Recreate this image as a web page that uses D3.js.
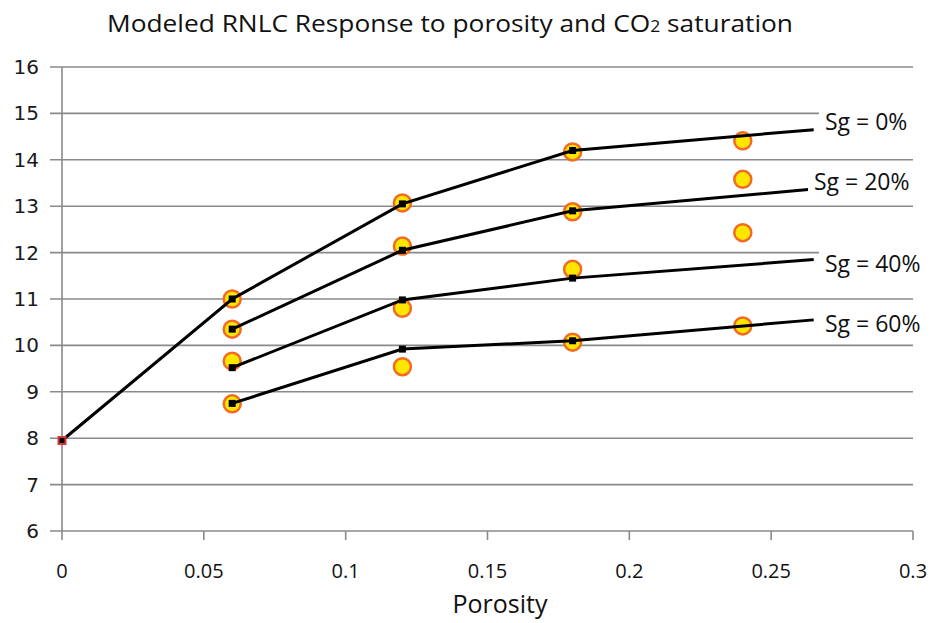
<!DOCTYPE html>
<html>
<head>
<meta charset="utf-8">
<script src="https://cdn.jsdelivr.net/npm/d3@7"></script>
<style>
  body { margin: 0; background: #fff; }
  text { font-family: "Open Sans", "Noto Sans", sans-serif; }
</style>
</head>
<body>
<svg id="chart" width="935" height="623"></svg>
<script>
// porosity values where the model lines bend, and the last (extrapolated) end point
var lineX0 = [0, 0.06, 0.12, 0.18, 0.265];
var lineX = [0.06, 0.12, 0.18, 0.265];
var model0 = [7.95, 11.0, 13.05, 14.2, 14.65];
var model20 = [10.35, 12.05, 12.9, 13.37];
var model40 = [9.52, 10.98, 11.45, 11.85];
var model60 = [8.75, 9.92, 10.1, 10.55];

// measured points (yellow circles)
var pointX = [0.06, 0.12, 0.18, 0.24];
var meas0 = [11.0, 13.07, 14.17, 14.41];
var meas20 = [10.35, 12.14, 12.88, 13.58];
var meas40 = [9.66, 10.8, 11.64, 12.43];
var meas60 = [8.74, 9.54, 10.07, 10.42];

var labels = ['Sg = 0%', 'Sg = 20%', 'Sg = 40%', 'Sg = 60%'];
var yTicks = [6, 7, 8, 9, 10, 11, 12, 13, 14, 15, 16];
var xTicks = [0, 0.05, 0.1, 0.15, 0.2, 0.25, 0.3];

var svg = d3.select('#chart');
var x = d3.scaleLinear().domain([0, 0.3]).range([62, 913]);
var y = d3.scaleLinear().domain([6, 16]).range([531, 67]);

// gridlines
svg.append('g')
    .selectAll('line')
    .data(yTicks)
    .join('line')
    .attr('x1', 50).attr('x2', x(0.3))
    .attr('y1', d => y(d)).attr('y2', d => y(d))
    .attr('stroke', '#8a8a8a').attr('stroke-width', 1.6);

svg.append('line')
    .attr('x1', x(0)).attr('x2', x(0))
    .attr('y1', y(16)).attr('y2', y(6) + 9)
    .attr('stroke', '#8a8a8a').attr('stroke-width', 1.6);

svg.append('g')
    .selectAll('line')
    .data(xTicks.slice(1))
    .join('line')
    .attr('x1', d => x(d)).attr('x2', d => x(d))
    .attr('y1', y(6)).attr('y2', y(6) + 9)
    .attr('stroke', '#8a8a8a').attr('stroke-width', 1.6);

// tick labels
svg.append('g')
    .selectAll('text')
    .data(yTicks)
    .join('text')
    .attr('x', 39).attr('y', d => y(d) + 7)
    .attr('text-anchor', 'end')
    .style('font-family', 'DejaVu Sans')
    .style('font-size', '20px')
    .attr('fill', '#1a1a1a')
    .text(d => d);

svg.append('g')
    .selectAll('text')
    .data(xTicks)
    .join('text')
    .attr('x', d => x(d)).attr('y', 578)
    .attr('text-anchor', 'middle')
    .style('font-size', '20px')
    .attr('fill', '#111')
    .text(d => d);

svg.append('text')
    .attr('x', 450).attr('y', 32)
    .attr('text-anchor', 'middle')
    .attr('textLength', 686)
    .attr('lengthAdjust', 'spacingAndGlyphs')
    .style('font-size', '24px')
    .attr('fill', '#111')
    .html('Modeled RNLC Response to porosity and CO<tspan font-size="16px">2</tspan> saturation');

svg.append('text')
    .attr('x', 500).attr('y', 613)
    .attr('text-anchor', 'middle')
    .style('font-size', '25px')
    .attr('fill', '#111')
    .text('Porosity');

// measured points
var measured = [meas0, meas20, meas40, meas60];
measured.forEach(function(vals) {
    svg.append('g')
        .selectAll('circle')
        .data(vals)
        .join('circle')
        .attr('cx', (d, i) => x(pointX[i]))
        .attr('cy', d => y(d))
        .attr('r', 8.5)
        .attr('fill', '#ffe600')
        .attr('stroke', '#f26a24')
        .attr('stroke-width', 2.5);
});

// model lines
var line = d3.line().x(d => x(d[0])).y(d => y(d[1]));
var models = [
    {xs: lineX0, ys: model0},
    {xs: lineX, ys: model20},
    {xs: lineX, ys: model40},
    {xs: lineX, ys: model60}
];
models.forEach(function(m) {
    var pts = m.xs.map((v, i) => [v, m.ys[i]]);
    svg.append('path')
        .attr('d', line(pts))
        .attr('fill', 'none')
        .attr('stroke', '#000')
        .attr('stroke-width', 3);
    svg.append('g')
        .selectAll('rect')
        .data(pts.slice(0, pts.length - 1))
        .join('rect')
        .attr('x', d => x(d[0]) - 3.5).attr('y', d => y(d[1]) - 3.5)
        .attr('width', 7).attr('height', 7)
        .attr('fill', '#000')
        .attr('stroke', (d, i) => d[0] === 0 ? '#d9363e' : 'none')
        .attr('stroke-width', 2);
});

// series labels with white boxes
var labelPos = [[825, 130], [814, 190], [825, 272], [825, 332]];
labels.forEach(function(t, i) {
    var g = svg.append('g');
    var txt = g.append('text')
        .attr('x', labelPos[i][0]).attr('y', labelPos[i][1])
        .style('font-size', '23px')
        .attr('fill', '#111')
        .text(t);
    var bb = txt.node().getBBox();
    g.insert('rect', 'text')
        .attr('x', bb.x - 6).attr('y', bb.y)
        .attr('width', bb.width + 12).attr('height', bb.height)
        .attr('fill', '#fff');
});
</script>
</body>
</html>
